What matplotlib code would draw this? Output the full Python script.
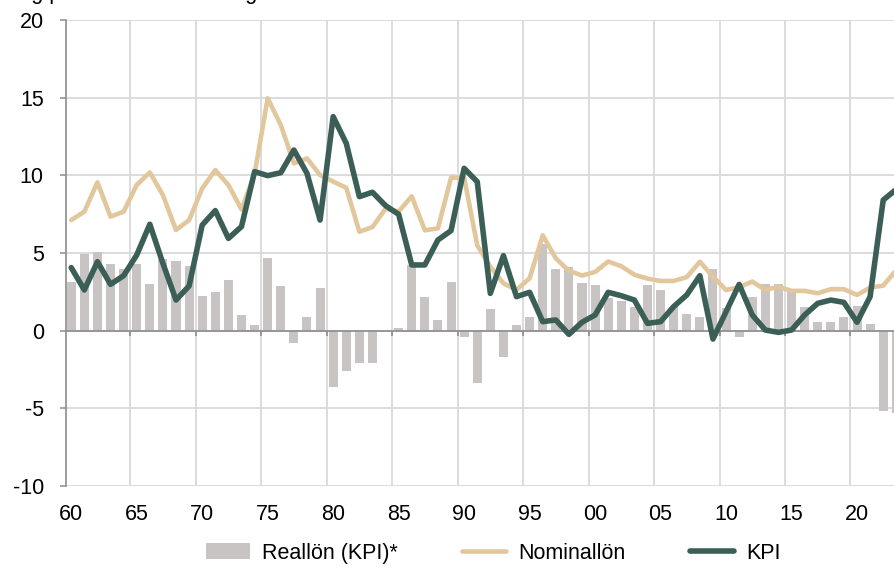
import matplotlib
matplotlib.use('Agg')
import matplotlib.pyplot as plt
import numpy as np

plt.rcParams['font.family'] = ['Liberation Sans', 'DejaVu Sans']
plt.rcParams['axes.unicode_minus'] = False

# Data (årlig procentuell förändring)
years = list(range(1960, 2024))

reallon = [3.15, 4.94, 5.08, 4.29, 3.95, 4.29, 3.03, 4.59, 4.46, 4.16,
           2.23, 2.51, 3.28, 0.99, 0.36, 4.70, 2.90, -0.82, 0.86, 2.77,
           -3.65, -2.60, -2.10, -2.10, 0.0, 0.19, 4.23, 2.17, 0.71, 3.15,
           -0.43, -3.39, 1.37, -1.72, 0.36, 0.86, 5.56, 3.97, 4.08, 3.05,
           2.92, 2.08, 1.93, 1.50, 2.92, 2.64, 1.55, 1.10, 0.87, 3.95,
           1.48, -0.43, 2.14, 3.03, 3.03, 2.50, 1.52, 0.58, 0.58, 0.87,
           1.61, 0.45, -5.17, -5.32]

nominallon = [7.12, 7.66, 9.55, 7.34, 7.66, 9.38, 10.19, 8.73, 6.48, 7.12,
              9.16, 10.34, 9.38, 7.80, 10.10, 14.96, 13.24, 10.77, 11.09, 10.02,
              9.60, 9.20, 6.37, 6.67, 7.85, 7.67, 8.65, 6.46, 6.59, 9.85,
              9.85, 5.50, 4.12, 3.05, 2.62, 3.37, 6.14, 4.66, 3.85, 3.55,
              3.78, 4.45, 4.15, 3.60, 3.35, 3.20, 3.20, 3.45, 4.44, 3.48,
              2.62, 2.80, 3.16, 2.62, 2.83, 2.56, 2.56, 2.41, 2.67, 2.67,
              2.30, 2.77, 2.90, 3.90]

kpi = [4.06, 2.62, 4.44, 2.98, 3.54, 4.87, 6.85, 4.33, 1.97, 2.88,
       6.80, 7.73, 5.94, 6.70, 10.24, 9.98, 10.17, 11.63, 10.13, 7.12,
       13.78, 12.06, 8.63, 8.91, 8.05, 7.49, 4.23, 4.23, 5.84, 6.44,
       10.45, 9.59, 2.40, 4.83, 2.19, 2.47, 0.58, 0.69, -0.24, 0.54,
       1.01, 2.47, 2.25, 1.97, 0.47, 0.58, 1.55, 2.30, 3.54, -0.54,
       1.22, 2.98, 1.01, 0.04, -0.11, 0.04, 1.01, 1.76, 1.97, 1.82,
       0.54, 2.19, 8.41, 9.10]

label_years = list(range(1960, 2021, 5))
y_ticks = [-10, -5, 0, 5, 10, 15, 20]

BAR = '#c9c4c4'
TAN = '#e2c69c'
GREEN = '#3b5f57'
GRID = '#d9d9d9'
AXIS = '#8c8c8c'
FS = 15.5

fig = plt.figure(figsize=(8.95, 5.68), dpi=100)
ax = fig.add_axes([66 / 895, 82 / 568, 829 / 895, 466 / 568])

bars = ax.bar(years, reallon, width=0.69, color=BAR, zorder=2, label='Reallön (KPI)*')
l_nom, = ax.plot(years, nominallon, color=TAN, lw=3.3, zorder=3, label='Nominallön',
                 solid_joinstyle='round', solid_capstyle='round')
l_kpi, = ax.plot(years, kpi, color=GREEN, lw=4.0, zorder=4, label='KPI',
                 solid_joinstyle='round', solid_capstyle='round')

ax.set_xlim(1959.6, 2022.9)
ax.set_ylim(-10, 20)

# gridlines: horizontal at y ticks, vertical between the 5-year groups
boundaries = [y - 0.5 for y in label_years[1:]]
ax.set_yticks(y_ticks)
ax.set_xticks(label_years)
ax.set_xticklabels([str(y)[2:] for y in label_years])
ax.set_xticks(boundaries, minor=True)
ax.grid(axis='y', which='major', color=GRID, lw=1.3, zorder=0)
ax.grid(axis='x', which='minor', color=GRID, lw=1.3, zorder=0)
ax.set_axisbelow(True)

ax.tick_params(axis='x', which='both', length=0, labelsize=FS, pad=13)
ax.tick_params(axis='y', length=4, width=1.1, color=AXIS, labelsize=FS, pad=12)

for s in ['top', 'right', 'bottom']:
    ax.spines[s].set_visible(False)
ax.spines['left'].set_color(AXIS)
ax.spines['left'].set_linewidth(1.2)

# zero line with small ticks at group boundaries
ax.axhline(0, color=AXIS, lw=1.2, zorder=2.5)
ax.vlines(boundaries, -0.32, 0, color=AXIS, lw=1.2, zorder=2.5)

# heading, mostly outside the cropped picture (as in the reference)
fig.text(0.0, 1 + 1.5 / 568, 'Årlig procentuell förändring', ha='left', va='baseline',
         fontsize=FS, color='black')

fig.legend(handles=[bars, l_nom, l_kpi], loc='center', bbox_to_anchor=(0.551, 0.0264),
           ncol=3, frameon=False, fontsize=FS, handlelength=2.05, handletextpad=0.55,
           columnspacing=3.0)

fig.savefig('out.png', dpi=100)
